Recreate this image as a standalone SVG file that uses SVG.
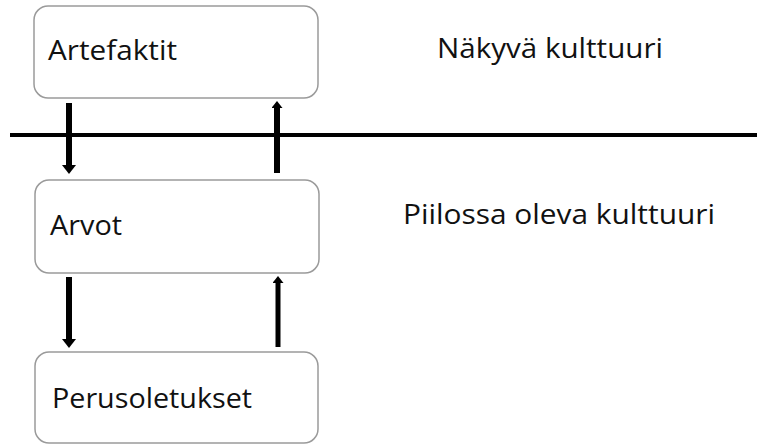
<svg xmlns="http://www.w3.org/2000/svg" width="757" height="445" viewBox="0 0 757 445">
  <style>
    .box { fill: #ffffff; stroke: #9a9a9a; stroke-width: 1.5; }
    .lbl { font-family: "Open Sans", "Noto Sans", "Liberation Sans", sans-serif; font-size: 27.5px; fill: #111111; }
    .arr { stroke: #000000; fill: none; }
  </style>
  <defs>
    <marker id="headL" viewBox="0 0 9 14" refX="0" refY="7" markerWidth="9" markerHeight="14" markerUnits="userSpaceOnUse" orient="auto">
      <path d="M0,0 L9,7 L0,14 z" fill="#000000"/>
    </marker>
    <marker id="headS" viewBox="0 0 7 11" refX="0" refY="5.5" markerWidth="7" markerHeight="11" markerUnits="userSpaceOnUse" orient="auto">
      <path d="M0,0 L7,5.5 L0,11 z" fill="#000000"/>
    </marker>
  </defs>

  <g id="divider">
    <line x1="10" y1="135" x2="757" y2="135" stroke="#000000" stroke-width="4"/>
  </g>

  <g id="node-artefaktit">
    <rect class="box" x="34" y="6" width="284" height="92" rx="14" ry="14"/>
    <text class="lbl" x="48" y="60" textLength="129" lengthAdjust="spacingAndGlyphs">Artefaktit</text>
  </g>
  <g id="node-arvot">
    <rect class="box" x="35" y="180" width="284" height="93" rx="14" ry="14"/>
    <text class="lbl" x="50" y="235" textLength="72" lengthAdjust="spacingAndGlyphs">Arvot</text>
  </g>
  <g id="node-perusoletukset">
    <rect class="box" x="35" y="352" width="283" height="91" rx="14" ry="14"/>
    <text class="lbl" x="52" y="408" textLength="200" lengthAdjust="spacingAndGlyphs">Perusoletukset</text>
  </g>

  <g id="label-nakyva">
    <text class="lbl" x="437" y="58" textLength="226" lengthAdjust="spacingAndGlyphs">Näkyvä kulttuuri</text>
  </g>
  <g id="label-piilossa">
    <text class="lbl" x="403" y="224" textLength="312" lengthAdjust="spacingAndGlyphs">Piilossa oleva kulttuuri</text>
  </g>

  <g id="connectors">
    <line class="arr" x1="69" y1="103" x2="69" y2="165" stroke-width="6" marker-end="url(#headL)"/>
    <line class="arr" x1="277" y1="173" x2="277" y2="108" stroke-width="6" marker-end="url(#headS)"/>
    <line class="arr" x1="69" y1="277" x2="69" y2="339" stroke-width="6" marker-end="url(#headL)"/>
    <line class="arr" x1="278" y1="347" x2="278" y2="283" stroke-width="5" marker-end="url(#headS)"/>
  </g>
</svg>
